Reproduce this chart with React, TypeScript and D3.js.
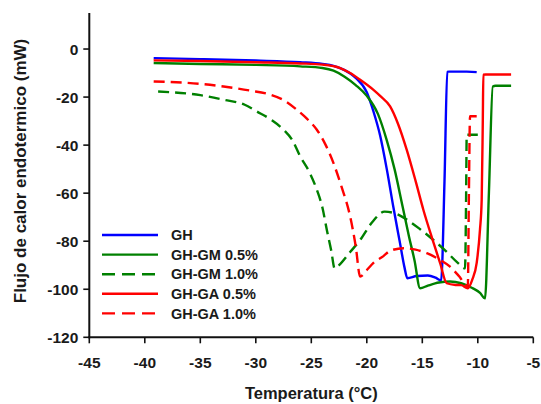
import React, { useEffect } from "react";
import * as d3 from "d3";

type Pt = [number, number];

// DSC thermograms: temperature (°C) vs. endothermic heat flow (mW)
const ghCurve: Pt[] = [
  [-39.2, -3.8], [-35, -4.2], [-30, -4.8], [-26, -5.5], [-24, -6.2], [-23, -7.0],
  [-22, -8.8], [-21, -12], [-20, -18], [-19.4, -26], [-18.8, -36], [-18.2, -50],
  [-17.6, -66], [-17, -81], [-16.6, -91], [-16.35, -95.4], [-15.5, -94.5],
  [-14.5, -94.3], [-13.8, -95.2], [-13.3, -96.3], [-13.0, -55], [-12.75, -9.5],
  [-12.6, -9.4], [-11, -9.4], [-10.1, -9.6],
];

const ghGm05Curve: Pt[] = [
  [-39.2, -5.8], [-35, -6.2], [-30, -6.6], [-26, -7.2], [-24, -7.9], [-23, -9],
  [-22, -11.5], [-21, -15], [-20, -19.5], [-19, -27], [-18.2, -38], [-17.5, -50],
  [-16.8, -65], [-16.2, -78], [-15.7, -88], [-15.2, -99.6], [-14.5, -98.5],
  [-13.5, -97.2], [-12.5, -96.8], [-11.5, -97.5], [-10.5, -99.5], [-9.8, -101.5],
  [-9.35, -103.8], [-9.0, -60], [-8.65, -15.6], [-8.4, -15.3], [-7.0, -15.3],
];

const ghGm10Curve: Pt[] = [
  [-38.8, -17.7], [-35, -19.2], [-32.9, -21.1], [-31, -23.2], [-29.9, -26],
  [-28.6, -29.5], [-27.5, -33.6], [-26.7, -38], [-26.0, -44.7], [-25.2, -51],
  [-24.5, -58.6], [-24.0, -66], [-23.6, -75.3], [-23.2, -84], [-22.9, -91.3],
  [-22.4, -89.5], [-21.5, -84.5], [-20.6, -79.5], [-19.5, -72], [-18.4, -67.7],
  [-17.4, -68.5], [-16.4, -71], [-15.2, -75], [-14.0, -79.5], [-12.9, -84],
  [-11.8, -89], [-11.15, -91.3], [-11.05, -60], [-11.0, -35.7], [-10.0, -35.7],
];

const ghGa05Curve: Pt[] = [
  [-39.2, -4.7], [-35, -5.0], [-30, -5.5], [-26, -6.0], [-24, -6.5], [-22.4, -7.9],
  [-21.5, -10], [-20.6, -12.8], [-19.4, -17], [-18.8, -19.5], [-17.9, -23.9],
  [-17.2, -31], [-16.4, -42], [-15.6, -55], [-14.9, -67], [-14.1, -79],
  [-13.4, -89], [-12.8, -97.5], [-12.0, -98.2], [-11.5, -98.3], [-10.9, -99.6],
  [-10.5, -96], [-10.1, -89], [-9.8, -75], [-9.65, -62.8], [-9.55, -30],
  [-9.5, -10.7], [-9.3, -10.6], [-7.0, -10.6],
];

const ghGa10Curve: Pt[] = [
  [-39.2, -13.5], [-35, -14.5], [-32.9, -15.6], [-30.5, -17.3], [-28.7, -19],
  [-27.4, -21.5], [-26.3, -25.3], [-25.4, -29], [-24.5, -33.6], [-23.7, -40],
  [-23.0, -47.5], [-22.3, -57], [-21.5, -69.7], [-21.0, -82], [-20.6, -94.7],
  [-20.0, -92], [-19.4, -89], [-18.5, -86.2], [-17.9, -84], [-16.7, -82.9],
  [-15.6, -83.5], [-14.6, -85], [-13.5, -87.5], [-12.5, -90.6], [-11.7, -94.5],
  [-10.9, -98.9], [-10.8, -60], [-10.7, -28], [-10.1, -28],
];

const seriesNames = ["GH", "GH-GM 0.5%", "GH-GM 1.0%", "GH-GA 0.5%", "GH-GA 1.0%"];
const seriesData = [ghCurve, ghGm05Curve, ghGm10Curve, ghGa05Curve, ghGa10Curve];
const seriesColors = ["#0000ff", "#008000", "#008000", "#ff0000", "#ff0000"];
const seriesDashed = [false, false, true, false, true];

const xTicks = [-45, -40, -35, -30, -25, -20, -15, -10, -5];
const yTicks = [0, -20, -40, -60, -80, -100, -120];

const W = 541;
const H = 404;
const FONT = "'Liberation Sans', Arial, sans-serif";
const TEXT = "#1a1a1a";

export default function App() {
  useEffect(() => {
    document.body.style.margin = "0";
  }, []);

  const x = d3.scaleLinear().domain([-45, -5]).range([89.3, 533.3]);
  const y = d3.scaleLinear().domain([-120, 15]).range([337.3, 13]);

  const line = d3
    .line<Pt>()
    .x((d) => x(d[0]))
    .y((d) => y(d[1]))
    .curve(d3.curveMonotoneX);

  const legendX0 = 102;
  const legendX1 = 158;
  const legendY0 = 235;
  const legendStep = 19.6;

  return (
    <svg width={W} height={H} style={{ display: "block", background: "#fff" }}>
      {/* curves */}
      <g fill="none" strokeWidth={2.4} strokeLinejoin="round">
        {seriesData.map((d, i) => (
          <path
            key={seriesNames[i]}
            d={line(d) ?? ""}
            stroke={seriesColors[i]}
            strokeDasharray={seriesDashed[i] ? "11,6" : undefined}
          />
        ))}
      </g>

      {/* axes */}
      <g stroke="#111" strokeWidth={2}>
        <line x1={x(-45)} x2={x(-45)} y1={y(15)} y2={y(-120) + 1} />
        <line x1={x(-45) - 1} x2={x(-5)} y1={y(-120)} y2={y(-120)} />
        {yTicks.map((t) => (
          <line key={"yt" + t} x1={x(-45) - 6} x2={x(-45)} y1={y(t)} y2={y(t)} strokeWidth={1.6} />
        ))}
        {xTicks.map((t) => (
          <line key={"xt" + t} x1={x(t)} x2={x(t)} y1={y(-120)} y2={y(-120) + 6} strokeWidth={1.6} />
        ))}
      </g>

      <g fontFamily={FONT} fontWeight="bold" fill={TEXT} fontSize={15.5}>
        {yTicks.map((t) => (
          <text key={"yl" + t} x={x(-45) - 11} y={y(t)} dy="0.36em" textAnchor="end">
            {t}
          </text>
        ))}
        {xTicks.map((t) => (
          <text key={"xl" + t} x={x(t)} y={y(-120) + 25} dy="0.36em" textAnchor="middle">
            {t}
          </text>
        ))}
      </g>

      <text
        x={(x(-45) + x(-5)) / 2}
        y={393}
        dy="0.36em"
        textAnchor="middle"
        fontFamily={FONT}
        fontWeight="bold"
        fontSize={16.5}
        fill={TEXT}
      >
        Temperatura (°C)
      </text>
      <text
        transform={`translate(20,171) rotate(-90)`}
        dy="0.36em"
        textAnchor="middle"
        fontFamily={FONT}
        fontWeight="bold"
        fontSize={17}
        fill={TEXT}
      >
        Flujo de calor endotermico (mW)
      </text>

      {/* legend */}
      <g fontFamily={FONT} fontWeight="bold" fontSize={14.5} fill={TEXT}>
        {seriesNames.map((name, i) => {
          const ly = legendY0 + i * legendStep;
          return (
            <g key={name}>
              <line
                x1={legendX0}
                x2={legendX1}
                y1={ly}
                y2={ly}
                stroke={seriesColors[i]}
                strokeWidth={2.4}
                strokeDasharray={seriesDashed[i] ? "13,7" : undefined}
              />
              <text x={171} y={ly} dy="0.36em">
                {name}
              </text>
            </g>
          );
        })}
      </g>
    </svg>
  );
}
